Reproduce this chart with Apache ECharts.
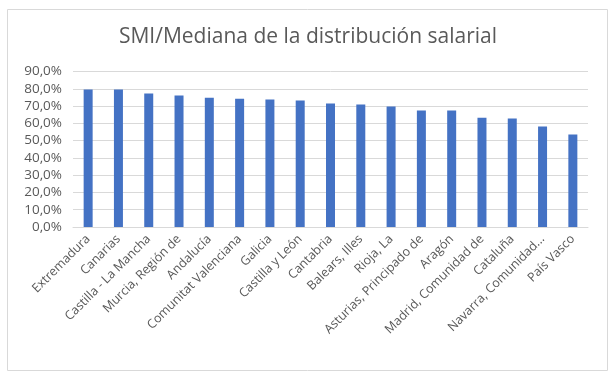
<!DOCTYPE html>
<html><head><meta charset="utf-8">
<script src="https://cdn.jsdelivr.net/npm/echarts@6/dist/echarts.min.js"></script>
<style>html,body{margin:0;padding:0;background:#fff}#c{width:616px;height:380px}</style>
</head><body><div id="c"></div>
<script>
const categories = ["Extremadura","Canarias","Castilla - La Mancha","Murcia, Región de","Andalucía","Comunitat Valenciana","Galicia","Castilla y León","Cantabria","Balears, Illes","Rioja, La","Asturias, Principado de","Aragón","Madrid, Comunidad de","Cataluña","Navarra, Comunidad...","País Vasco"];
const values = [79.6, 79.6, 77.2, 76.1, 74.8, 74.2, 73.8, 73.2, 71.5, 70.9, 69.7, 67.4, 67.4, 63.3, 62.8, 58.1, 53.5];
const titleText = "SMI/Mediana de la distribución salarial";
const yMax = 90, yStep = 10;

const chart = echarts.init(document.getElementById('c'), null, {renderer:'canvas'});
const font = "'Open Sans', sans-serif";
chart.setOption({
  animation:false,
  textStyle:{fontFamily:font},
  title:{text:titleText,left:'center',top:22,textStyle:{fontFamily:font,fontSize:21,fontWeight:'normal',color:'#595959'}},
  graphic:[{type:'rect',shape:{x:7.5,y:9.5,width:600,height:361},style:{fill:'none',stroke:'#d9d9d9',lineWidth:1},silent:true}],
  grid:{left:73,right:28,top:71.5,bottom:153},
  xAxis:{type:'category',data:categories,
    axisLine:{lineStyle:{color:'#d9d9d9'}},axisTick:{show:false},
    axisLabel:{rotate:45,interval:0,fontSize:12.5,color:'#595959',fontFamily:font,margin:10}},
  yAxis:{type:'value',min:0,max:yMax,interval:yStep,
    axisLine:{show:false},axisTick:{show:false},
    splitLine:{lineStyle:{color:'#d9d9d9'}},
    axisLabel:{fontSize:13.5,color:'#595959',fontFamily:font,margin:11,formatter:v=>v.toFixed(1).replace('.',',')+'%'}},
  series:[{type:'bar',data:values,barWidth:9,itemStyle:{color:'#4472c4'}}]
});
</script></body></html>
